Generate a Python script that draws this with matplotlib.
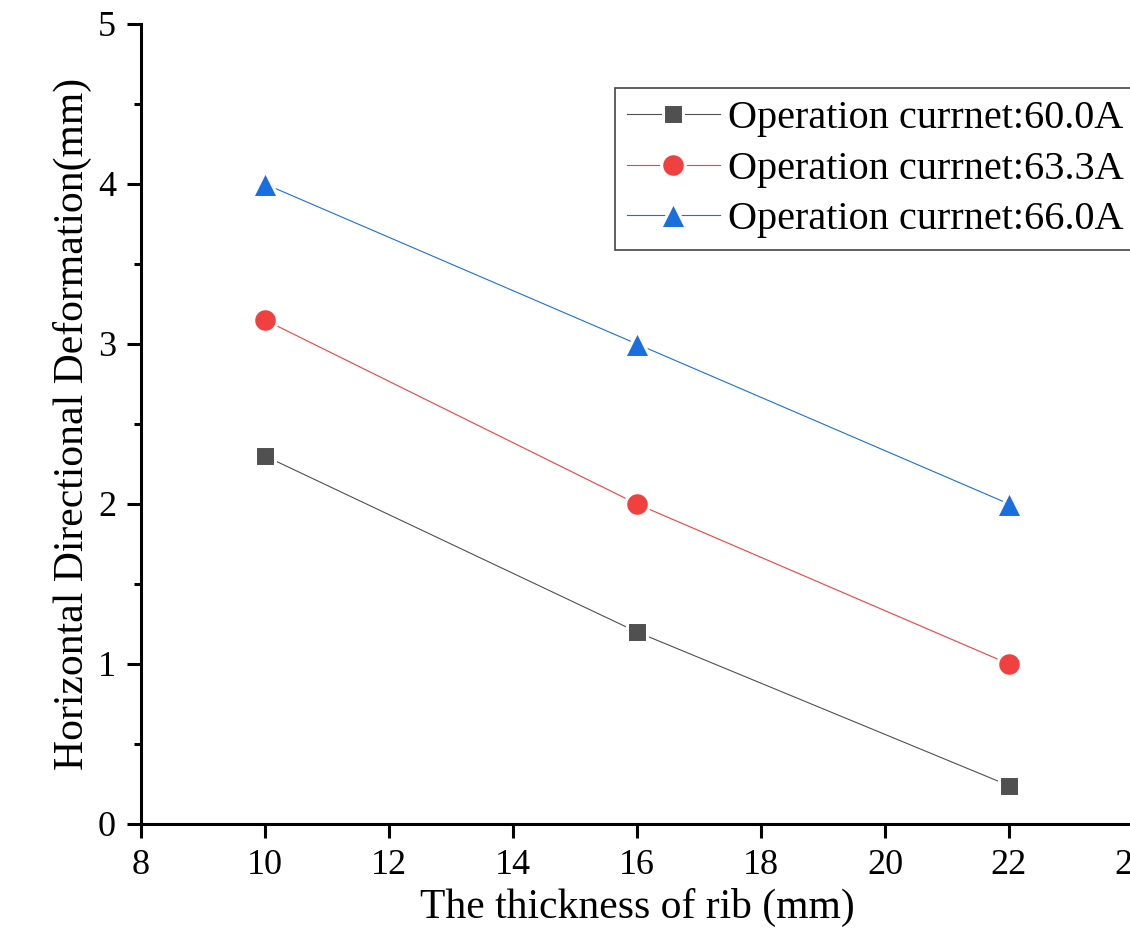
import numpy as np
import matplotlib
matplotlib.use("Agg")
import matplotlib.pyplot as plt
from matplotlib.ticker import MultipleLocator

plt.rcParams['font.family'] = ['Liberation Serif', 'DejaVu Serif']
plt.rcParams['mathtext.fontset'] = 'stix'

# data
thickness = [10, 16, 22]
dev_600 = [2.3, 1.2, 0.24]
dev_633 = [3.15, 2.0, 1.0]
dev_660 = [4.0, 3.0, 2.0]
labels = ['Operation currnet:60.0A', 'Operation currnet:63.3A', 'Operation currnet:66.0A']

fig = plt.figure(figsize=(11.3, 9.36), dpi=100)
ax = fig.add_axes([141/1130, 112/936, 992/1130, 800/936])

ax.plot(thickness, dev_600, color='#505050', lw=0.8, marker='s', ms=15,
        mfc='#505050', mec='white', mew=2.2, label=labels[0])
ax.plot(thickness, dev_633, color='#F14040', lw=0.8, marker='o', ms=17,
        mfc='#F14040', mec='white', mew=2.2, label=labels[1])
ax.plot(thickness, dev_660, color='#1A6FDF', lw=0.8, marker='^', ms=19,
        mfc='#1A6FDF', mec='white', mew=2.2, label=labels[2])

ax.set_xlim(8, 24)
ax.set_ylim(0, 5)
ax.xaxis.set_major_locator(MultipleLocator(2))
ax.yaxis.set_major_locator(MultipleLocator(1))
ax.yaxis.set_minor_locator(MultipleLocator(0.5))

for s in ['top', 'right']:
    ax.spines[s].set_visible(False)
for s in ['left', 'bottom']:
    ax.spines[s].set_linewidth(2.2)

ax.tick_params(which='major', direction='out', length=10, width=2.2, labelsize=26, pad=8)
ax.tick_params(which='minor', direction='out', length=5, width=2.2)
ax.tick_params(axis='x', which='minor', length=0)

ax.set_xlabel('The thickness of rib (mm)', fontsize=30, labelpad=4)
ax.set_ylabel('Horizontal Directional Deformation(mm)', fontsize=30, labelpad=4)

leg = ax.legend(loc='upper left', bbox_to_anchor=(615/1130, 1 - 88/936),
                bbox_transform=fig.transFigure, fontsize=29, frameon=True,
                fancybox=False, edgecolor='#444444', framealpha=1,
                handlelength=2.3, handletextpad=0.2, labelspacing=0.33,
                borderpad=0.3, borderaxespad=0)
leg.get_frame().set_linewidth(1.2)

fig.savefig('out.png', dpi=100)
